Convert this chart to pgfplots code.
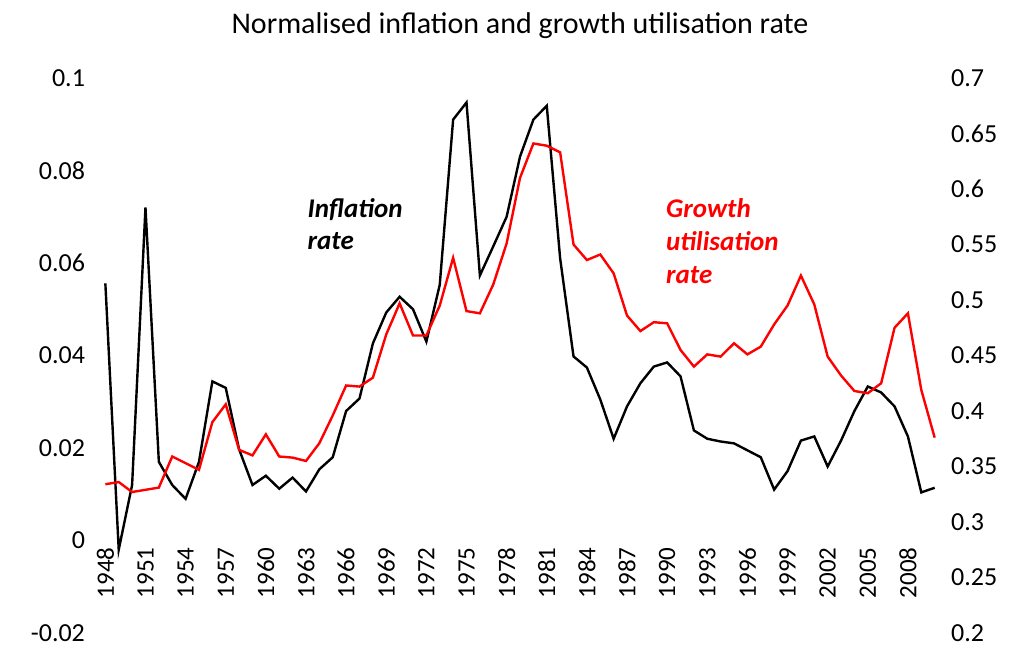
\documentclass[border=0pt]{standalone}
\usepackage{pgfplots}
\pgfplotsset{compat=1.18}
\usepackage{fontspec}
\setmainfont{Carlito}
\begin{document}
\begin{tikzpicture}[x=1pt,y=1pt]
\path[use as bounding box] (0,0) rectangle (508.5,332);
\pgfplotsset{every axis/.style={scale only axis, width=420pt, height=277.5pt,
  xmin=1947.6, xmax=2010.4, font=\fontsize{13}{15}\selectfont,
  /pgf/number format/assume math mode=true, /pgf/number format/fixed,
  /pgf/number format/precision=2, tick style={draw=none},
  axis line style={draw=none}}}
\begin{axis}[at={(50pt,15.5pt)}, anchor=south west,
  ymin=-0.02, ymax=0.1, ytick={-0.02,0,0.02,0.04,0.06,0.08,0.1},
  yticklabels={-0.02,0,0.02,0.04,0.06,0.08,0.1},
  axis x line*=middle, axis y line*=left,
  xtick={1948,1951,...,2008}, xticklabel style={rotate=90, anchor=east, font=\fontsize{12.5}{14}\selectfont},
  xticklabels={1948,1951,1954,1957,1960,1963,1966,1969,1972,1975,1978,1981,1984,1987,1990,1993,1996,1999,2002,2005,2008},
  yticklabel style={xshift=-4pt},
  title={\fontsize{15}{17}\selectfont Normalised inflation and growth utilisation rate},
  title style={yshift=10pt}]
\addplot[black, line width=1.2pt] coordinates {
(1948,0.0556)(1949,-0.002)(1950,0.012)(1951,0.072)(1952,0.017)(1953,0.012)(1954,0.009)(1955,0.017)
(1956,0.0344)(1957,0.033)(1958,0.0197)(1959,0.012)(1960,0.014)(1961,0.0112)(1962,0.0136)(1963,0.0106)
(1964,0.0154)(1965,0.018)(1966,0.028)(1967,0.0307)(1968,0.0426)(1969,0.0493)(1970,0.0527)(1971,0.050)
(1972,0.043)(1973,0.0553)(1974,0.091)(1975,0.0947)(1976,0.0573)(1977,0.0636)(1978,0.070)(1979,0.083)
(1980,0.091)(1981,0.094)(1982,0.061)(1983,0.0398)(1984,0.0374)(1985,0.0305)(1986,0.022)(1987,0.029)
(1988,0.034)(1989,0.0376)(1990,0.0385)(1991,0.0355)(1992,0.0238)(1993,0.022)(1994,0.0214)(1995,0.021)
(1996,0.0195)(1997,0.018)(1998,0.011)(1999,0.015)(2000,0.0216)(2001,0.0225)(2002,0.016)(2003,0.0216)
(2004,0.028)(2005,0.0333)(2006,0.032)(2007,0.029)(2008,0.0225)(2009,0.0104)(2010,0.0114)};
\node[anchor=west, font=\fontsize{13.5}{16}\selectfont\bfseries\itshape, align=left] at (axis cs:1962.6,0.0685) {Inflation\\rate};
\node[anchor=north west, text=red, font=\fontsize{13.5}{16.5}\selectfont\bfseries\itshape, align=left] at (axis cs:1989.4,0.0755) {Growth\\utilisation\\rate};
\end{axis}
\begin{axis}[at={(50pt,15.5pt)}, anchor=south west,
  ymin=0.2, ymax=0.7, ytick={0.2,0.25,...,0.7},
  yticklabels={0.2,0.25,0.3,0.35,0.4,0.45,0.5,0.55,0.6,0.65,0.7},
  axis y line*=right, axis x line=none, yticklabel style={xshift=2pt}]
\addplot[red, line width=1.2pt] coordinates {
(1948,0.334)(1949,0.336)(1950,0.327)(1951,0.329)(1952,0.331)(1953,0.359)(1954,0.353)(1955,0.347)
(1956,0.390)(1957,0.406)(1958,0.365)(1959,0.360)(1960,0.379)(1961,0.359)(1962,0.358)(1963,0.355)
(1964,0.371)(1965,0.396)(1966,0.423)(1967,0.422)(1968,0.430)(1969,0.469)(1970,0.497)(1971,0.468)
(1972,0.468)(1973,0.495)(1974,0.538)(1975,0.490)(1976,0.488)(1977,0.514)(1978,0.551)(1979,0.610)
(1980,0.641)(1981,0.639)(1982,0.633)(1983,0.550)(1984,0.536)(1985,0.541)(1986,0.524)(1987,0.486)
(1988,0.472)(1989,0.480)(1990,0.479)(1991,0.455)(1992,0.440)(1993,0.451)(1994,0.449)(1995,0.461)
(1996,0.451)(1997,0.458)(1998,0.478)(1999,0.495)(2000,0.522)(2001,0.496)(2002,0.449)(2003,0.432)
(2004,0.418)(2005,0.416)(2006,0.425)(2007,0.475)(2008,0.488)(2009,0.419)(2010,0.376)};
\end{axis}
\end{tikzpicture}
\end{document}
